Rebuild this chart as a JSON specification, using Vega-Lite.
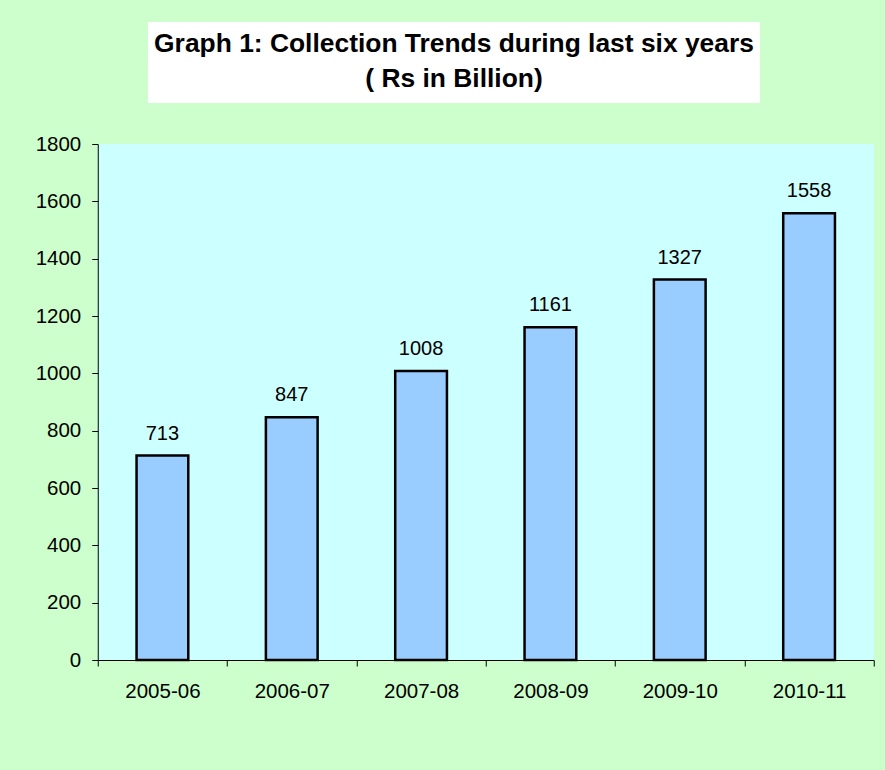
{
  "$schema": "https://vega.github.io/schema/vega-lite/v6.json",
  "background": "#ccffcc",
  "padding": {"left": 34.5, "top": 22, "right": 12, "bottom": 69},
  "spacing": 31,
  "center": true,
  "config": {
    "font": "Liberation Sans",
    "axis": {
      "labelFont": "Liberation Sans",
      "labelFontSize": 20.5,
      "labelColor": "#000000",
      "domainColor": "#000000",
      "tickColor": "#000000",
      "domainWidth": 1,
      "tickWidth": 1,
      "tickSize": 6,
      "grid": false,
      "title": null
    }
  },
  "vconcat": [
    {
      "width": 612,
      "height": 81,
      "view": {"fill": "#ffffff", "stroke": null},
      "data": {"values": [{"title": "Graph 1: Collection Trends during last six years\n( Rs in Billion)"}]},
      "mark": {
        "type": "text",
        "font": "Liberation Sans",
        "fontSize": 26.4,
        "fontWeight": "bold",
        "lineBreak": "\n",
        "lineHeight": 35,
        "baseline": "middle",
        "align": "center",
        "dy": -19,
        "color": "#000000"
      },
      "encoding": {
        "text": {"field": "title", "type": "nominal"},
        "y": {
          "datum": 0,
          "type": "quantitative",
          "scale": {"domain": [-1, 1]},
          "axis": {"orient": "right", "labels": false, "ticks": false, "domain": false, "grid": false, "minExtent": 64, "maxExtent": 64, "title": null}
        }
      }
    },
    {
      "width": 776,
      "height": 516,
      "view": {"fill": "#ccffff", "stroke": null},
      "data": {
        "values": [
          {"year": "2005-06", "value": 713},
          {"year": "2006-07", "value": 847},
          {"year": "2007-08", "value": 1008},
          {"year": "2008-09", "value": 1161},
          {"year": "2009-10", "value": 1327},
          {"year": "2010-11", "value": 1558}
        ]
      },
      "encoding": {
        "x": {
          "field": "year",
          "type": "ordinal",
          "sort": null,
          "scale": {"type": "band", "paddingInner": 0, "paddingOuter": 0},
          "axis": {"labelAngle": 0, "tickBand": "extent", "labelPadding": 15}
        },
        "y": {
          "field": "value",
          "type": "quantitative",
          "scale": {"domain": [0, 1800], "nice": false},
          "axis": {"values": [0, 200, 400, 600, 800, 1000, 1200, 1400, 1600, 1800], "format": "d", "labelPadding": 11}
        }
      },
      "layer": [
        {"mark": {"type": "bar", "width": {"band": 0.4}, "fill": "#99ccff", "stroke": "#000000", "strokeWidth": 2.5}},
        {
          "mark": {"type": "text", "dy": -16, "baseline": "alphabetic", "fontSize": 20, "font": "Liberation Sans", "color": "#000000"},
          "encoding": {"text": {"field": "value", "type": "quantitative"}}
        }
      ]
    }
  ]
}
